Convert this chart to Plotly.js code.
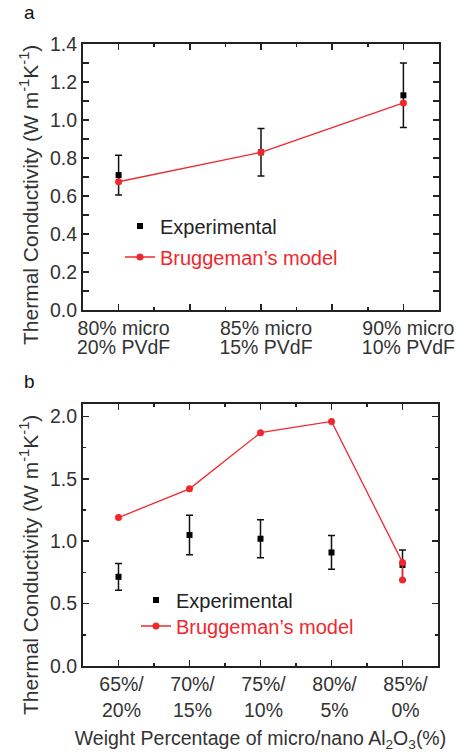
<!DOCTYPE html>
<html>
<head>
<meta charset="utf-8">
<script src="https://cdn.plot.ly/plotly-3.0.1.min.js"></script>
<style>html,body{margin:0;padding:0;background:#fff;}#chart{width:457px;height:752px;}</style>
</head>
<body>
<div id="chart"></div>
<script>
// ---- Panel a data ----
const catsA1 = ['80% micro', '85% micro', '90% micro'];
const catsA2 = ['20% PVdF', '15% PVdF', '10% PVdF'];
const expA = [0.71, 0.83, 1.13];
const errA = [0.105, 0.125, 0.17];
const modelA = [0.675, 0.83, 1.09];

// ---- Panel b data ----
const catsB = ['65%/<br>20%', '70%/<br>15%', '75%/<br>10%', '80%/<br>5%', '85%/<br>0%'];
const expB = [0.715, 1.05, 1.02, 0.91, 0.81];
const errB = [0.107, 0.158, 0.152, 0.135, 0.12];
const modelBIdx = [0, 1, 2, 3, 4, 4];
const modelB = [1.19, 1.42, 1.87, 1.96, 0.83, 0.69];

const seriesNames = ['Experimental', "Bruggeman\u2019s model"];
const yTitle = 'Thermal Conductivity (W m<sup>-1</sup>K<sup>-1</sup>)';
const xTitleB = 'Weight Percentage of micro/nano Al<sub>2</sub>O<sub>3</sub>(%)';

const FONT = 'Liberation Sans, Arial, sans-serif';
const RED = '#f0282d';
const AX = '#222222';
const TXT = '#333333';

const idxA = catsA1.map((_, i) => i);
const idxB = catsB.map((_, i) => i);

// Major ticks for panel a every half step, labels only at categories
const tickValsA = [];
const tickTextA = [];
for (let i = 0; i < catsA1.length; i++) {
  tickValsA.push(i); tickTextA.push(catsA1[i]);
  if (i < catsA1.length - 1) { tickValsA.push(i + 0.5); tickTextA.push(' '); }
}

const traces = [
  {x: idxA, y: expA, type: 'scatter', mode: 'markers', name: seriesNames[0],
   marker: {symbol: 'square', size: 6, color: '#000'},
   error_y: {type: 'data', array: errA, visible: true, color: '#111', thickness: 1.5, width: 3.5},
   xaxis: 'x', yaxis: 'y', legend: 'legend'},
  {x: idxA, y: modelA, type: 'scatter', mode: 'lines+markers', name: seriesNames[1],
   line: {color: RED, width: 1.3}, marker: {symbol: 'circle', size: 7, color: RED},
   xaxis: 'x', yaxis: 'y', legend: 'legend2'},
  // carrier for the second row of panel-a category labels (draws nothing)
  {x: idxA, y: modelA, type: 'scatter', mode: 'none', showlegend: false, hoverinfo: 'skip',
   xaxis: 'x3', yaxis: 'y'},
  {x: idxB, y: expB, type: 'scatter', mode: 'markers', name: seriesNames[0],
   marker: {symbol: 'square', size: 6, color: '#000'},
   error_y: {type: 'data', array: errB, visible: true, color: '#111', thickness: 1.5, width: 3.5},
   xaxis: 'x2', yaxis: 'y2', legend: 'legend3'},
  {x: modelBIdx, y: modelB, type: 'scatter', mode: 'lines+markers', name: seriesNames[1],
   line: {color: RED, width: 1.3}, marker: {symbol: 'circle', size: 7, color: RED},
   xaxis: 'x2', yaxis: 'y2', legend: 'legend4'}
];

const W = 457, H = 752;
const baseAxis = {
  showline: true, linecolor: AX, linewidth: 2, mirror: 'allticks',
  ticks: 'inside', ticklen: 6, tickwidth: 1.5, tickcolor: AX,
  showgrid: false, zeroline: false,
  tickfont: {family: FONT, size: 19.5, color: TXT}
};
const minorBase = {ticks: 'inside', ticklen: 3, tickwidth: 1.5, tickcolor: AX, showgrid: false, tickmode: 'linear', tick0: 0};
const legBase = (xPx, yPx, color) => ({x: xPx / W, y: 1 - yPx / H, xanchor: 'left', yanchor: 'middle',
  bgcolor: 'rgba(0,0,0,0)', font: {family: FONT, size: 20, color: color}});

const rangeA = [-0.25, catsA1.length - 0.75];

const layout = {
  width: W, height: H,
  margin: {l: 0, r: 0, t: 0, b: 0},
  paper_bgcolor: '#fff', plot_bgcolor: '#fff',
  font: {family: FONT, color: TXT},
  xaxis: Object.assign({}, baseAxis, {
    domain: [83 / W, 439 / W], range: rangeA, anchor: 'y',
    tickmode: 'array', tickvals: tickValsA, ticktext: tickTextA, ticklabelshift: 5,
    minor: Object.assign({}, minorBase, {dtick: 0.25})
  }),
  xaxis3: {
    overlaying: 'x', anchor: 'free', position: 1 - 333 / H, side: 'bottom',
    range: rangeA, showline: false, ticks: '', showgrid: false, zeroline: false,
    tickmode: 'array', tickvals: idxA, ticktext: catsA2, ticklabelshift: 5,
    tickfont: {family: FONT, size: 19.5, color: TXT}
  },
  yaxis: Object.assign({}, baseAxis, {
    domain: [1 - 310 / H, 1 - 44 / H], range: [0, 1.4], anchor: 'x',
    tickmode: 'linear', tick0: 0, dtick: 0.2, tickformat: '.1f',
    minor: Object.assign({}, minorBase, {dtick: 0.1})
  }),
  xaxis2: Object.assign({}, baseAxis, {
    domain: [83 / W, 438 / W], range: [-0.5, catsB.length - 0.5], anchor: 'y2',
    tickmode: 'array', tickvals: idxB, ticktext: catsB, ticklabelshift: 3,
    minor: Object.assign({}, minorBase, {dtick: 0.5}),
    title: {text: xTitleB, font: {family: FONT, size: 19.5, color: TXT}, standoff: 12}
  }),
  yaxis2: Object.assign({}, baseAxis, {
    domain: [1 - 666 / H, 1 - 404 / H], range: [0, 2.1], anchor: 'x2',
    tickmode: 'linear', tick0: 0, dtick: 0.5, tickformat: '.1f',
    minor: Object.assign({}, minorBase, {dtick: 0.25})
  }),
  legend: legBase(120, 226, '#222'),
  legend2: legBase(120, 257, RED),
  legend3: legBase(136, 600, '#222'),
  legend4: legBase(136, 626, RED),
  annotations: [
    {text: 'a', xref: 'paper', yref: 'paper', x: 29 / W, y: 1, showarrow: false,
     xanchor: 'center', yanchor: 'top', font: {family: FONT, size: 19, color: '#111'}},
    {text: 'b', xref: 'paper', yref: 'paper', x: 29 / W, y: 1 - 381 / H, showarrow: false,
     xanchor: 'center', yanchor: 'middle', font: {family: FONT, size: 19, color: '#111'}},
    {text: yTitle, xref: 'paper', yref: 'paper', x: 29 / W, y: 1 - 195 / H, showarrow: false,
     textangle: -90, xanchor: 'center', yanchor: 'middle', font: {family: FONT, size: 21, color: TXT}},
    {text: yTitle, xref: 'paper', yref: 'paper', x: 29 / W, y: 1 - 565 / H, showarrow: false,
     textangle: -90, xanchor: 'center', yanchor: 'middle', font: {family: FONT, size: 21, color: TXT}}
  ],
  showlegend: true
};

Plotly.newPlot('chart', traces, layout, {displayModeBar: false, staticPlot: true});
</script>
</body>
</html>
